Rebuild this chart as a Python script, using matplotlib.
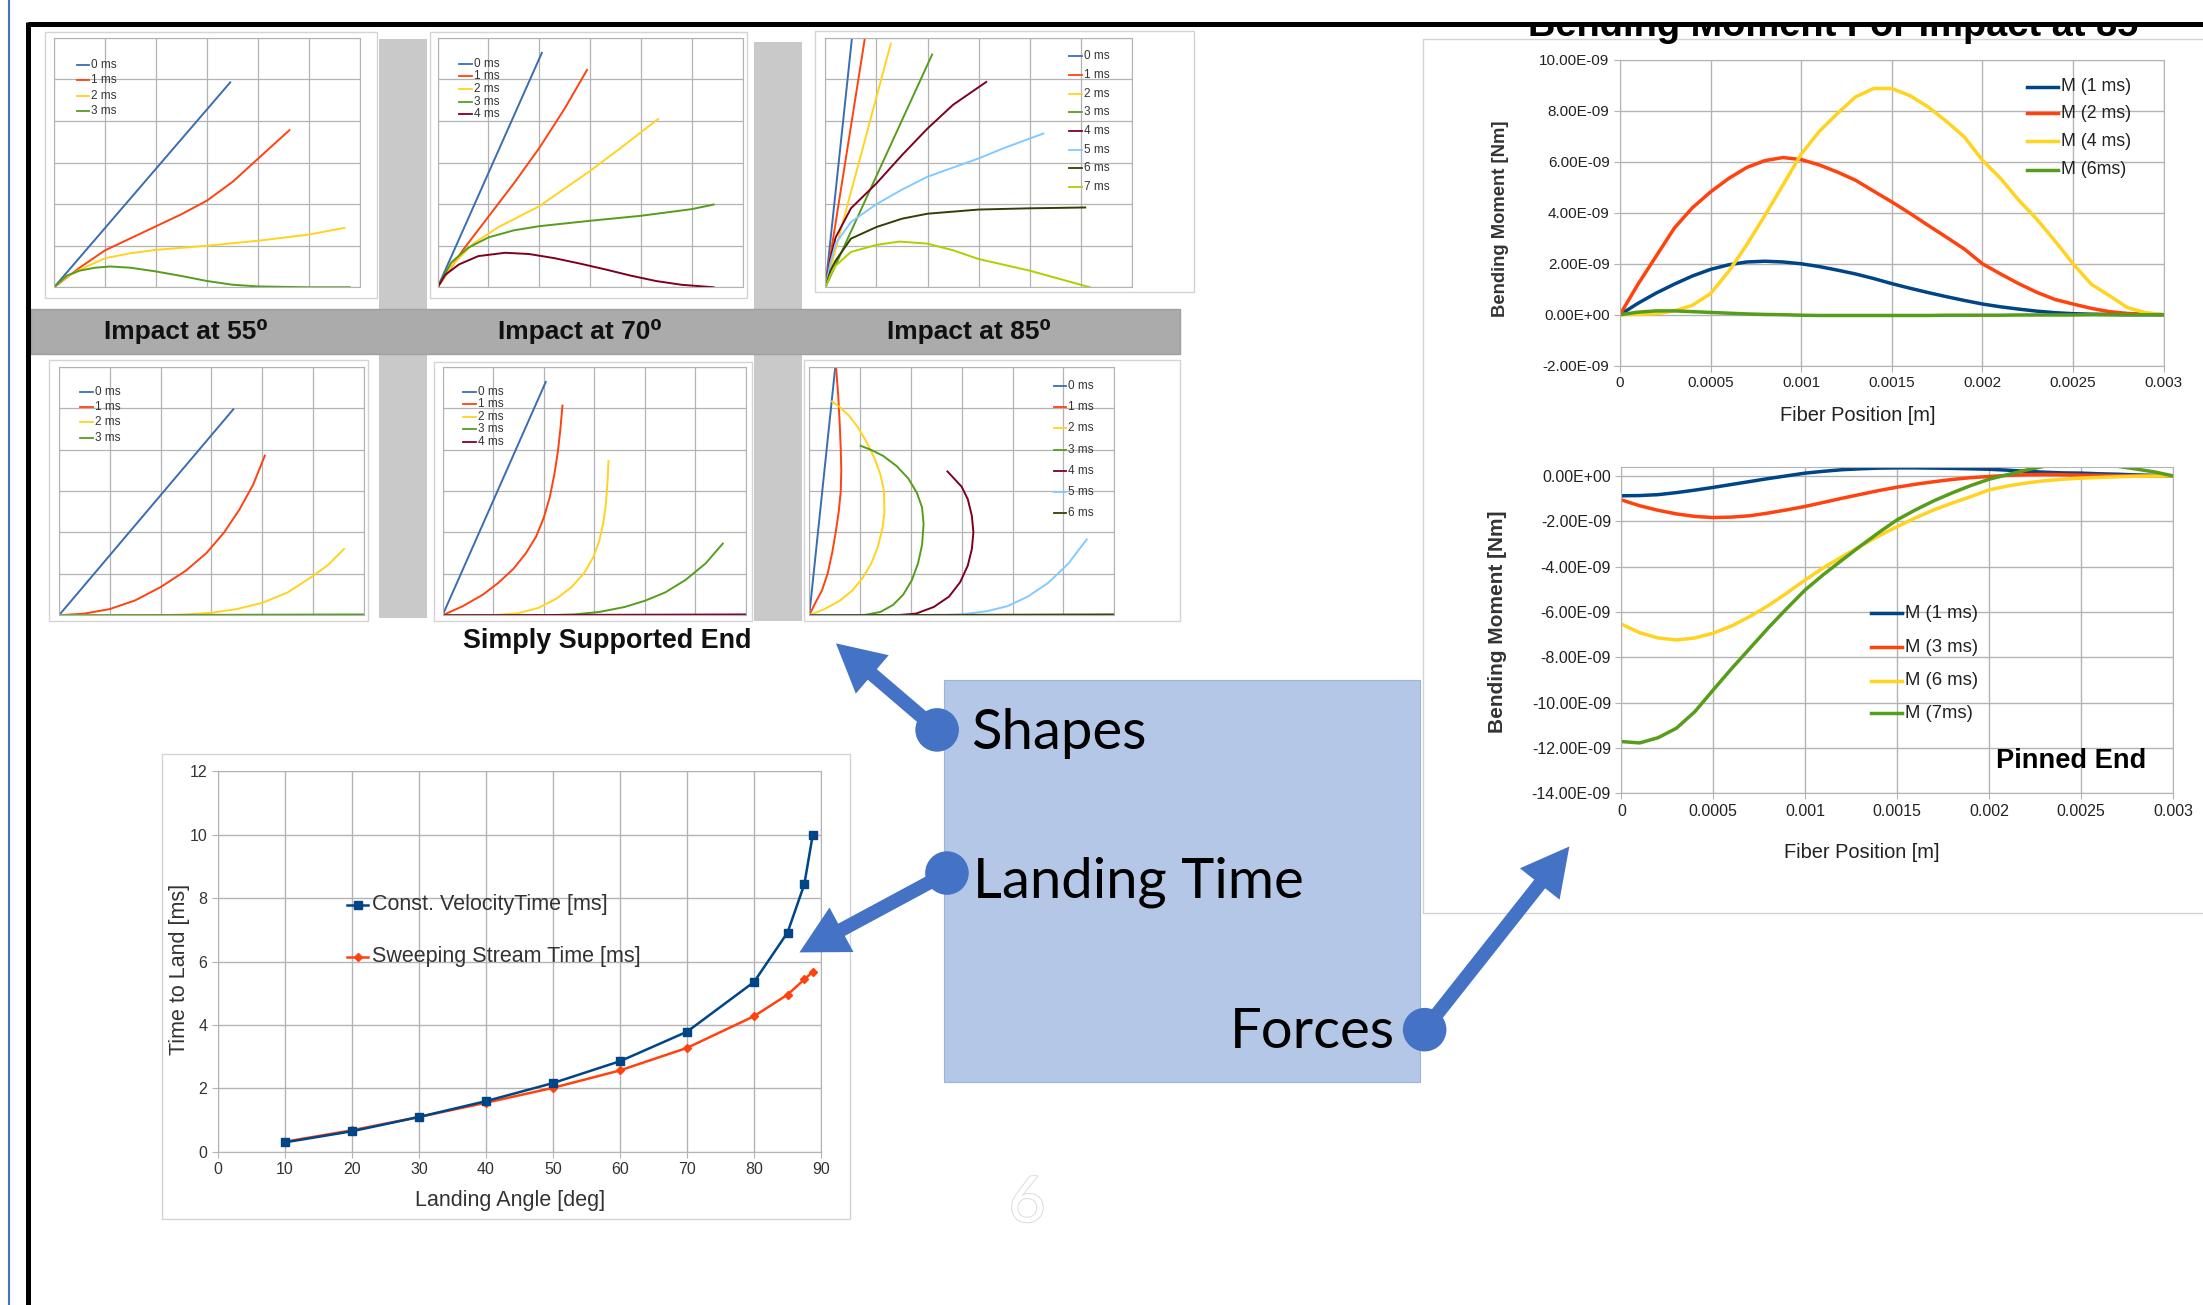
import matplotlib
matplotlib.use('Agg')
import matplotlib.pyplot as plt
from matplotlib.patches import Rectangle, Circle, Polygon
from matplotlib.ticker import FuncFormatter
import matplotlib.patheffects as pe

plt.rcParams['font.family'] = ['Liberation Sans', 'DejaVu Sans']

# layout is worked out in the 1568x929 preview, then scaled to the figure
W, H = 1568, 929

# ---------------- data ----------------
# landing time vs angle
angles = [10, 20, 30, 40, 50, 60, 70, 80, 85, 87.5, 88.75]
const_velocity = [0.3, 0.65, 1.1, 1.6, 2.17, 2.86, 3.79, 5.36, 6.92, 8.44, 9.99]
sweeping_stream = [0.32, 0.68, 1.1, 1.55, 2.02, 2.57, 3.28, 4.28, 4.96, 5.44, 5.68]

# bending moment, values in 1e-9 Nm, read every 0.0001 m
fiber_pos = [0, 0.0001, 0.0002, 0.0003, 0.0004, 0.0005, 0.0006, 0.0007, 0.0008, 0.0009,
             0.001, 0.0011, 0.0012, 0.0013, 0.0014, 0.0015, 0.0016, 0.0017, 0.0018, 0.0019,
             0.002, 0.0021, 0.0022, 0.0023, 0.0024, 0.0025, 0.0026, 0.0027, 0.0028, 0.0029, 0.003]
free_1ms = [0, 0.45, 0.85, 1.2, 1.52, 1.78, 1.96, 2.07, 2.1, 2.07,
            2.0, 1.89, 1.75, 1.6, 1.42, 1.22, 1.04, 0.87, 0.71, 0.56,
            0.42, 0.31, 0.22, 0.14, 0.08, 0.04, 0.02, 0.01, 0, 0, 0]
free_2ms = [0, 1.2, 2.3, 3.4, 4.2, 4.82, 5.35, 5.78, 6.05, 6.17,
            6.09, 5.88, 5.6, 5.28, 4.85, 4.43, 3.98, 3.51, 3.05, 2.58,
            2.0, 1.6, 1.22, 0.88, 0.6, 0.42, 0.25, 0.12, 0.05, 0.02, 0]
free_4ms = [0, 0.01, 0.04, 0.15, 0.37, 0.83, 1.7, 2.75, 3.9, 5.1,
            6.3, 7.2, 7.9, 8.55, 8.88, 8.88, 8.6, 8.16, 7.6, 6.98,
            6.07, 5.35, 4.5, 3.75, 2.9, 2.0, 1.2, 0.75, 0.28, 0.08, 0]
free_6ms = [0, 0.1, 0.15, 0.15, 0.12, 0.09, 0.06, 0.03, 0.01, 0,
            -0.02, -0.03, -0.03, -0.03, -0.03, -0.03, -0.03, -0.03, -0.02, -0.02,
            -0.02, -0.02, -0.01, -0.01, -0.01, -0.01, 0, 0, 0, 0, 0]

pinned_1ms = [-0.88, -0.87, -0.83, -0.74, -0.63, -0.51, -0.38, -0.25, -0.12, 0.0,
              0.12, 0.2, 0.27, 0.31, 0.34, 0.35, 0.35, 0.34, 0.33, 0.31,
              0.29, 0.25, 0.2, 0.16, 0.13, 0.12, 0.09, 0.07, 0.04, 0.02, 0]
pinned_3ms = [-1.06, -1.32, -1.52, -1.68, -1.79, -1.84, -1.82, -1.76, -1.64, -1.5,
              -1.35, -1.17, -0.99, -0.82, -0.65, -0.5, -0.37, -0.26, -0.16, -0.08,
              -0.03, 0.02, 0.05, 0.06, 0.05, 0.03, 0.02, 0.01, 0, 0, 0]
pinned_6ms = [-6.54, -6.92, -7.15, -7.24, -7.15, -6.94, -6.62, -6.2, -5.72, -5.17,
              -4.59, -4.05, -3.57, -3.1, -2.65, -2.24, -1.85, -1.5, -1.2, -0.92,
              -0.62, -0.45, -0.32, -0.22, -0.15, -0.1, -0.07, -0.04, -0.02, -0.01, 0]
pinned_7ms = [-11.72, -11.78, -11.55, -11.13, -10.4, -9.44, -8.5, -7.6, -6.7, -5.85,
              -5.03, -4.35, -3.72, -3.1, -2.5, -1.94, -1.5, -1.1, -0.75, -0.43,
              -0.15, 0.05, 0.25, 0.42, 0.55, 0.62, 0.6, 0.42, 0.3, 0.17, 0]

fiber_ticks = [0, 0.0005, 0.001, 0.0015, 0.002, 0.0025, 0.003]
fiber_labels = ['0', '0.0005', '0.001', '0.0015', '0.002', '0.0025', '0.003']

# fiber shapes (grid units), one small table per panel
shape55_free = {
    '0 ms': ([0, 3.45], [0, 4.93]),
    '1 ms': ([0, 0.5, 1, 1.5, 2, 2.5, 3, 3.5, 4, 4.61],
             [0, 0.47, 0.89, 1.18, 1.47, 1.76, 2.09, 2.54, 3.1, 3.78]),
    '2 ms': ([0, 0.25, 0.5, 1, 1.5, 2, 3, 4, 5, 5.69],
             [0, 0.25, 0.42, 0.7, 0.82, 0.9, 1.0, 1.12, 1.27, 1.43]),
    '3 ms': ([0, 0.25, 0.5, 0.8, 1.1, 1.5, 2, 2.5, 3, 3.5, 4, 5, 5.79],
             [0, 0.28, 0.4, 0.47, 0.5, 0.47, 0.38, 0.27, 0.15, 0.06, 0.02, 0, 0]),
}
shape70_free = {
    '0 ms': ([0, 2.05], [0, 5.64]),
    '1 ms': ([0, 0.5, 1, 1.5, 2, 2.5, 2.94], [0, 0.9, 1.7, 2.5, 3.35, 4.3, 5.23]),
    '2 ms': ([0, 0.3, 0.7, 1.2, 2, 3, 3.6, 4.34], [0, 0.55, 1.05, 1.45, 1.95, 2.8, 3.35, 4.05]),
    '3 ms': ([0, 0.27, 0.6, 1, 1.5, 2, 3, 4, 5, 5.43],
             [0, 0.6, 0.95, 1.2, 1.37, 1.47, 1.6, 1.72, 1.88, 1.99]),
    '4 ms': ([0, 0.15, 0.42, 0.8, 1.33, 1.8, 2.3, 2.8, 3.3, 3.8, 4.3, 4.8, 5.43],
             [0, 0.3, 0.55, 0.75, 0.83, 0.8, 0.7, 0.57, 0.43, 0.28, 0.15, 0.06, 0]),
}
shape85_free = {
    '0 ms': ([0, 0.52], [0, 6.0]),
    '1 ms': ([0, 0.77], [0, 5.97]),
    '2 ms': ([0, 1.28], [0, 5.86]),
    '3 ms': ([0, 2.09], [0, 5.6]),
    '4 ms': ([0, 0.1, 0.2, 0.5, 1, 1.5, 2, 2.5, 3.15], [0, 0.7, 1.2, 1.9, 2.5, 3.18, 3.82, 4.39, 4.94]),
    '5 ms': ([0, 0.1, 0.2, 0.5, 1, 1.5, 2, 3, 3.5, 4.27], [0, 0.6, 1.05, 1.57, 2.0, 2.35, 2.66, 3.1, 3.35, 3.7]),
    '6 ms': ([0, 0.1, 0.2, 0.5, 1, 1.5, 2, 3, 4, 5.09], [0, 0.4, 0.64, 1.17, 1.45, 1.65, 1.77, 1.87, 1.9, 1.92]),
    '7 ms': ([0, 0.1, 0.2, 0.5, 1, 1.45, 2, 2.5, 3, 4, 5.18], [0, 0.3, 0.52, 0.85, 1.02, 1.1, 1.05, 0.89, 0.68, 0.4, 0]),
}
shape55_ss = {
    '0 ms': ([0, 3.43], [0, 4.97]),
    '1 ms': ([0, 0.5, 1, 1.5, 2, 2.5, 2.9, 3.25, 3.55, 3.82, 4.05],
             [0, 0.04, 0.15, 0.36, 0.68, 1.08, 1.5, 2.0, 2.55, 3.15, 3.85]),
    '2 ms': ([0, 2, 2.5, 3, 3.5, 4, 4.5, 5, 5.3, 5.61], [0, 0, 0.02, 0.06, 0.15, 0.3, 0.55, 0.95, 1.22, 1.6]),
    '3 ms': ([0, 6], [0, 0.02]),
}
shape70_ss = {
    '0 ms': ([0, 2.04], [0, 5.63]),
    '1 ms': ([0, 0.4, 0.8, 1.1, 1.4, 1.65, 1.85, 2.0, 2.12, 2.21, 2.28, 2.33, 2.37],
             [0, 0.22, 0.5, 0.78, 1.12, 1.5, 1.9, 2.35, 2.85, 3.4, 3.95, 4.5, 5.06]),
    '2 ms': ([0, 1.0, 1.5, 1.9, 2.25, 2.55, 2.8, 2.98, 3.1, 3.18, 3.23, 3.26, 3.28],
             [0, 0, 0.05, 0.18, 0.4, 0.68, 1.02, 1.4, 1.8, 2.25, 2.7, 3.2, 3.72]),
    '3 ms': ([0, 2.0, 2.6, 3.1, 3.6, 4.0, 4.4, 4.8, 5.2, 5.54],
             [0, 0, 0.02, 0.08, 0.2, 0.35, 0.55, 0.85, 1.25, 1.73]),
    '4 ms': ([0, 6], [0, 0.02]),
}
shape85_ss = {
    '0 ms': ([0, 0.51], [0, 5.97]),
    '1 ms': ([0, 0.12, 0.25, 0.36, 0.45, 0.52, 0.58, 0.62, 0.63, 0.62, 0.6, 0.57, 0.53],
             [0, 0.3, 0.6, 1.0, 1.5, 2.0, 2.5, 3.0, 3.5, 4.0, 4.6, 5.3, 5.95]),
    '2 ms': ([0, 0.3, 0.6, 0.85, 1.05, 1.22, 1.35, 1.44, 1.48, 1.47, 1.4, 1.28, 1.12, 0.95, 0.78, 0.6, 0.45],
             [0, 0.15, 0.35, 0.6, 0.9, 1.25, 1.65, 2.1, 2.5, 3.0, 3.4, 3.8, 4.2, 4.55, 4.82, 5.02, 5.16]),
    '3 ms': ([0, 0.8, 1.1, 1.4, 1.65, 1.85, 2.02, 2.14, 2.22, 2.25, 2.22, 2.12, 1.95, 1.72, 1.45, 1.2, 1.01],
             [0, 0, 0.01, 0.08, 0.25, 0.5, 0.85, 1.25, 1.7, 2.2, 2.6, 2.95, 3.3, 3.6, 3.85, 4.0, 4.09]),
    '4 ms': ([0, 1.7, 2.1, 2.45, 2.75, 2.97, 3.12, 3.2, 3.23, 3.2, 3.12, 3.0, 2.85, 2.72],
             [0, 0, 0.04, 0.2, 0.45, 0.8, 1.2, 1.6, 2.0, 2.4, 2.8, 3.1, 3.3, 3.47]),
    '5 ms': ([0, 2.5, 3.0, 3.5, 3.9, 4.3, 4.7, 5.1, 5.46], [0, 0, 0.02, 0.1, 0.22, 0.45, 0.78, 1.25, 1.83]),
    '6 ms': ([0, 6], [0, 0.02]),
}

ms_colors = ['#3A6DB0', '#FF420E', '#FFD320', '#579D1C', '#7E0021', '#83CAFF', '#314004', '#AECF00']
lo_blue, lo_red, lo_yellow, lo_green = '#004586', '#FF420E', '#FFD320', '#579D1C'
grid_c = '#b3b3b3'
arrow_c = '#4472C4'

# ---------------- figure ----------------
fig = plt.figure(figsize=(22.03, 13.05), dpi=100)

bg = fig.add_axes([0, 0, 1, 1], zorder=-10)
bg.set_xlim(0, W)
bg.set_ylim(H, 0)
bg.axis('off')

ov = fig.add_axes([0, 0, 1, 1], zorder=10)
ov.set_xlim(0, W)
ov.set_ylim(H, 0)
ov.axis('off')
ov.patch.set_alpha(0)


def add_ax(x0, y0, x1, y1):
    return fig.add_axes([x0 / W, 1 - y1 / H, (x1 - x0) / W, (y1 - y0) / H])


def box(x0, y0, x1, y1, fc='white', ec='#d4d4d4', lw=1.0):
    bg.add_patch(Rectangle((x0, y0), x1 - x0, y1 - y0, fc=fc, ec=ec, lw=lw))


def mini_chart(extent, series, key_x, key_y0, key_dy):
    ax = add_ax(*extent)
    for i, (xs, ys) in enumerate(series.values()):
        ax.plot(xs, ys, color=ms_colors[i], lw=1.4)
    ax.set_xlim(0, 6)
    ax.set_ylim(0, 6)
    ax.set_xticks(range(7))
    ax.set_yticks(range(7))
    ax.tick_params(length=0, labelbottom=False, labelleft=False)
    ax.grid(True, color=grid_c, lw=0.9)
    ax.set_axisbelow(True)
    for s in ax.spines.values():
        s.set_color(grid_c)
    for i, lab in enumerate(series):
        y = key_y0 + i * key_dy
        ov.plot([key_x, key_x + 9], [y, y], color=ms_colors[i], lw=1.3)
        ov.text(key_x + 10.5, y, lab, fontsize=8.5, va='center', color='#333333')
    return ax


# ---------- shapes panel backgrounds ----------
box(32, 23, 268, 212)
box(306, 23, 532, 212)
box(580, 22, 850, 208)
box(35, 256, 262, 442)
box(309, 258, 535, 442)
box(572, 256, 840, 442)
box(270, 28, 304, 440, fc='#c9c9c9', ec='none')
box(537, 30, 571, 442, fc='#c9c9c9', ec='none')
box(22, 220, 840, 252, fc='#ababab', ec='#a0a0a0')

mini_chart((38.5, 27, 256.5, 204.5), shape55_free, 54.5, 46, 11)
mini_chart((311.5, 27, 528.5, 204.5), shape70_free, 327, 45.4, 9)
mini_chart((587.5, 27, 805.5, 204.5), shape85_free, 761, 40, 13.3)
mini_chart((42, 261, 259, 438), shape55_ss, 57, 278.7, 11)
mini_chart((315, 261, 531, 438), shape70_ss, 329.5, 278.7, 9)
mini_chart((576, 261, 793, 438), shape85_ss, 750, 275, 15)

for xc, lab in [(132, 'Impact at 55⁰'), (413, 'Impact at 70⁰'), (690, 'Impact at 85⁰')]:
    ov.text(xc, 236, lab, fontsize=19, fontweight='bold', ha='center', va='center', color='#111111')
ov.text(432, 456, 'Simply Supported End', fontsize=19.4, fontweight='bold', ha='center', va='center',
        color='#111111')

# ---------- landing time chart ----------
box(115, 537, 605, 868)
ax = add_ax(155, 549.2, 584.4, 820)
ax.plot(angles, sweeping_stream, color=lo_red, lw=1.8, marker='D', ms=4)
ax.plot(angles, const_velocity, color=lo_blue, lw=1.8, marker='s', ms=5.5)
ax.set_xlim(0, 90)
ax.set_ylim(0, 12)
ax.set_xticks(range(0, 91, 10))
ax.set_yticks(range(0, 13, 2))
ax.grid(True, color=grid_c, lw=1.0)
ax.set_axisbelow(True)
for s in ax.spines.values():
    s.set_color(grid_c)
ax.tick_params(length=4, color=grid_c, labelsize=11.5, labelcolor='#333333')
ax.set_xlabel('Landing Angle [deg]', fontsize=15.5, color='#333333', va='center')
ax.xaxis.set_label_coords(0.4844, -0.129)
ax.set_ylabel('Time to Land [ms]', fontsize=15.5, color='#333333', va='center')
ax.yaxis.set_label_coords(-0.0629, 0.48)

ov.plot([247, 262], [644, 644], color=lo_blue, lw=1.8)
ov.plot([254.5], [644], marker='s', ms=6, color=lo_blue)
ov.text(265, 644, 'Const. VelocityTime [ms]', fontsize=15.5, va='center', color='#333333')
ov.plot([247, 262], [681, 681], color=lo_red, lw=1.8)
ov.plot([254.5], [681], marker='D', ms=4.5, color=lo_red)
ov.text(265, 681, 'Sweeping Stream Time [ms]', fontsize=15.5, va='center', color='#333333')

# ---------- bending moment charts ----------
box(1013, 28, 1572, 650)


def sci_label(v, pos):
    if abs(v) < 1e-15:
        return '0.00E+00'
    return f'{v * 1e9:.2f}E-09'


def moment_axes(extent, ylo, yhi, yticks, fs):
    a = add_ax(*extent)
    a.set_xlim(0, 0.003)
    a.set_ylim(ylo, yhi)
    a.set_xticks(fiber_ticks, fiber_labels)
    a.set_yticks(yticks)
    a.yaxis.set_major_formatter(FuncFormatter(sci_label))
    a.grid(True, color=grid_c, lw=1.0)
    a.set_axisbelow(True)
    for s in a.spines.values():
        s.set_color(grid_c)
    a.tick_params(length=4, color=grid_c, labelsize=fs, labelcolor='#222222')
    return a


top = moment_axes((1153, 42.7, 1540, 260.3), -2e-9, 10e-9, [v * 1e-9 for v in range(-2, 11, 2)], 11)
for vals, col in [(free_1ms, lo_blue), (free_2ms, lo_red), (free_4ms, lo_yellow), (free_6ms, lo_green)]:
    top.plot(fiber_pos, [v * 1e-9 for v in vals], color=col, lw=2.5)
top.set_ylabel('Bending Moment [Nm]', fontsize=13.2, fontweight='bold', color='#333333', va='center')
top.yaxis.set_label_coords(-0.2196, 0.479)
top.set_xlabel('Fiber Position [m]', fontsize=14.4, color='#222222', va='center')
top.xaxis.set_label_coords(0.437, -0.164)

bot = moment_axes((1154, 332.6, 1546.6, 564.7), -14e-9, 0.38e-9, [v * 1e-9 for v in range(-14, 1, 2)], 11.5)
for vals, col in [(pinned_1ms, lo_blue), (pinned_3ms, lo_red), (pinned_6ms, lo_yellow), (pinned_7ms, lo_green)]:
    bot.plot(fiber_pos, [v * 1e-9 for v in vals], color=col, lw=2.5)
bot.set_ylabel('Bending Moment [Nm]', fontsize=15, fontweight='bold', color='#333333', va='center')
bot.yaxis.set_label_coords(-0.225, 0.5265)
bot.set_xlabel('Fiber Position [m]', fontsize=14.4, color='#222222', va='center')
bot.xaxis.set_label_coords(0.4356, -0.182)

for y, lab, col in [(61.7, 'M (1 ms)', lo_blue), (80.6, 'M (2 ms)', lo_red),
                    (100.4, 'M (4 ms)', lo_yellow), (121, 'M (6ms)', lo_green)]:
    ov.plot([1443, 1465], [y, y], color=col, lw=2.5)
    ov.text(1467, y, lab, fontsize=12.8, va='center', color='#222222')
for y, lab, col in [(436.6, 'M (1 ms)', lo_blue), (460.7, 'M (3 ms)', lo_red),
                    (484.6, 'M (6 ms)', lo_yellow), (507.7, 'M (7ms)', lo_green)]:
    ov.plot([1332, 1354], [y, y], color=col, lw=2.5)
    ov.text(1356, y, lab, fontsize=13.3, va='center', color='#222222')
ov.text(1421, 542, 'Pinned End', fontsize=19.6, fontweight='bold', va='center', color='black')

# title, cut off by the slide's top rule
ov.text(1304.5, 25.6, 'Bending Moment For Impact at 85', fontsize=27.4, fontweight='bold',
        ha='center', va='baseline', zorder=1)
ov.add_patch(Rectangle((22, -5), W, 22, fc='white', ec='none', zorder=2))
ov.plot([20, W + 2], [17, 17], color='black', lw=3.6, zorder=3, solid_capstyle='butt')
ov.plot([20, 20], [15.7, H + 2], color='black', lw=3.6, zorder=3, solid_capstyle='butt')
ov.plot([6.5, 6.5], [0, H], color=arrow_c, lw=1.5, zorder=3)

# ---------- callout box and arrows ----------
box(671.7, 484, 1011, 770, fc='#B4C7E7', ec='#9DB3DA', lw=0.8)
ov.text(691, 533, 'Shapes', fontsize=40.5, family='Lato', va='baseline', color='black')
ov.text(692.6, 639, 'Landing Time', fontsize=40.5, family='Lato', va='baseline', color='black')
ov.text(993, 746, 'Forces', fontsize=40.5, family='Lato', va='baseline', ha='right', color='black')


def callout(cx, cy, tx, ty, r=15.5, lw=10, hl=34, hw=36):
    dx, dy = tx - cx, ty - cy
    d = (dx * dx + dy * dy) ** 0.5
    ux, uy = dx / d, dy / d
    bx, by = tx - ux * hl, ty - uy * hl
    nx, ny = -uy, ux
    ov.plot([cx, bx + ux * 2], [cy, by + uy * 2], color=arrow_c, lw=lw, solid_capstyle='butt')
    ov.add_patch(Polygon([(tx, ty), (bx + nx * hw / 2, by + ny * hw / 2), (bx - nx * hw / 2, by - ny * hw / 2)],
                         closed=True, fc=arrow_c, ec='none'))
    ov.add_patch(Circle((cx, cy), r, fc=arrow_c, ec='none'))


callout(667, 519.6, 595, 458)
callout(674, 621.5, 569, 678)
callout(1014, 733, 1117, 602.6)

# faint slide number
ov.text(731, 857, '6', fontsize=46, family='Lato', color='white', ha='center', va='center',
        path_effects=[pe.withStroke(linewidth=1.2, foreground='#d6d6d6')])

fig.savefig('out.png', dpi=100)
